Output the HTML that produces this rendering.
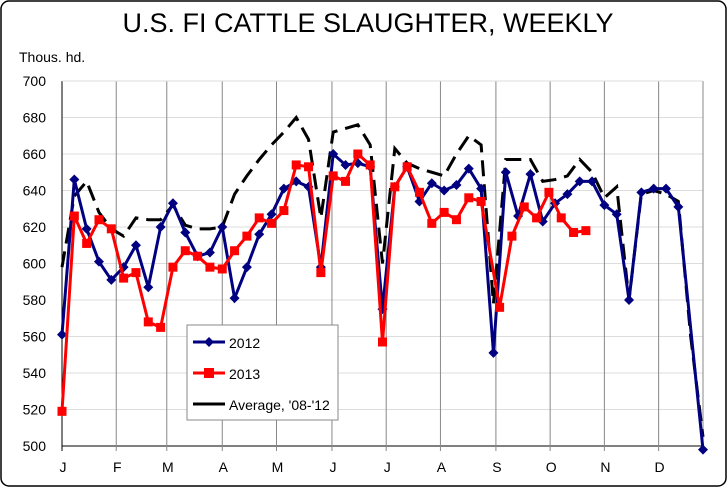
<!DOCTYPE html>
<html><head><meta charset="utf-8"><style>
body{margin:0;background:#fff}
svg{display:block;font-family:"Liberation Sans",Arial,sans-serif}
</style></head><body>
<svg id="chart" width="727" height="487" viewBox="0 0 727 487">
<rect x="1" y="1" width="725" height="485" rx="8" fill="#fff" stroke="#000" stroke-width="1.5"/>
<text x="368" y="32" font-size="27" text-anchor="middle">U.S. FI CATTLE SLAUGHTER, WEEKLY</text>
<text x="19" y="62" font-size="14">Thous. hd.</text>
<g id="grid"></g><g id="series"></g>
<g>
<rect x="187" y="325" width="151" height="95" fill="#fff" stroke="#888"/>
<line x1="193" y1="342" x2="225" y2="342" stroke="#000080" stroke-width="3"/>
<path d="M209 337 L214 342 L209 347 L204 342Z" fill="#000080"/>
<text x="229" y="348" font-size="14">2012</text>
<line x1="193" y1="373" x2="225" y2="373" stroke="#f00" stroke-width="3"/>
<rect x="204" y="368" width="10" height="10" fill="#f00"/>
<text x="229" y="379" font-size="14">2013</text>
<line x1="193" y1="404" x2="225" y2="404" stroke="#000" stroke-width="3"/>
<text x="229" y="410" font-size="14">Average, '08-'12</text>
</g>
</svg>
<script>
const yTicks=[500,520,540,560,580,600,620,640,660,680,700];
const months=["J","F","M","A","M","J","J","A","S","O","N","D"];
const monthWeeks=[0,4.4,8.5,13,17.4,21.9,26.3,30.7,35.2,39.6,44,48.4];
const s2012=[561,646,619,601,591,598,610,587,620,633,617,604,606,620,581,598,616,627,641,645,642,598,660,654,655,653,575,642,653,634,644,640,643,652,641,551,650,626,649,623,633,638,645,645,632,627,580,639,641,641,631,498];
const s2013=[519,626,611,624,619,592,595,568,565,598,607,604,598,597,607,615,625,622,629,654,653,595,648,645,660,654,557,642,653,639,622,628,624,636,634,576,615,631,625,639,625,617,618];
const sAvg=[598,637,645,628,619,615,625,624,624,632,621,619,619,620,638,648,657,665,672,680,668,625,672,674,676,665,600,663,655,652,650,648,660,670,665,578,657,657,657,645,646,648,657,650,636,642,580,638,640,638,634,560,505];
const X0=62,X1=703,Y0=446,Y1=81;
const xS=w=>X0+w*(X1-X0)/52;
const yS=v=>Y0-(v-500)*(Y0-Y1)/200;
// 2012 final (partial) week plotted at the year-end position
const w2012=i=>i===s2012.length-1?52:i;
const w2013=i=>i<35?i:i+0.5;
const NS="http://www.w3.org/2000/svg";
function mk(t,a,p){const e=document.createElementNS(NS,t);for(const k in a)e.setAttribute(k,a[k]);p.appendChild(e);return e;}
const g=document.getElementById('grid'),s=document.getElementById('series');
yTicks.forEach(v=>{
 const l=mk('line',{x1:X0,x2:X1,y1:yS(v),y2:yS(v),stroke:v===500?'#000':'#ddd'},g);
 
 
 const t=mk('text',{x:46,y:yS(v)+5,'font-size':14,'text-anchor':'end'},g);t.textContent=v;
 
 
});
monthWeeks.forEach((w,i)=>{
 const l=mk('line',{x1:xS(w),x2:xS(w),y1:Y1,y2:Y0+5,stroke:i===0?'#000':'#888'},g);
 
 
 const t=mk('text',{x:xS(w)+1,y:472,'font-size':14,'text-anchor':'middle'},g);t.textContent=months[i];
 
 
});
mk('line',{x1:X1,x2:X1,y1:Y1,y2:Y0,stroke:'#888'},g);
mk('line',{x1:X0,x2:X1,y1:Y1,y2:Y1,stroke:'#ddd'},g);
function pts(a,wf){return a.map((v,i)=>xS(wf?wf(i):i)+','+yS(v)).join(' ');}
const avg=mk('polyline',{points:pts(sAvg),fill:'none',stroke:'#000','stroke-width':3,'stroke-dasharray':'16,8'},s);


const b=mk('polyline',{points:pts(s2012,w2012),fill:'none',stroke:'#000080','stroke-width':3},s);


s2012.forEach((v,i)=>{const x=xS(w2012(i)),y=yS(v);
 const m=mk('path',{d:`M${x} ${y-5}L${x+5} ${y}L${x} ${y+5}L${x-5} ${y}Z`,fill:'#000080'},s);
 
 });
const r=mk('polyline',{points:pts(s2013,w2013),fill:'none',stroke:'#f00','stroke-width':3},s);


s2013.forEach((v,i)=>{
 const m=mk('rect',{x:xS(w2013(i))-4.5,y:yS(v)-4.5,width:9,height:9,fill:'#f00'},s);
 
 });
</script>
</body></html>
